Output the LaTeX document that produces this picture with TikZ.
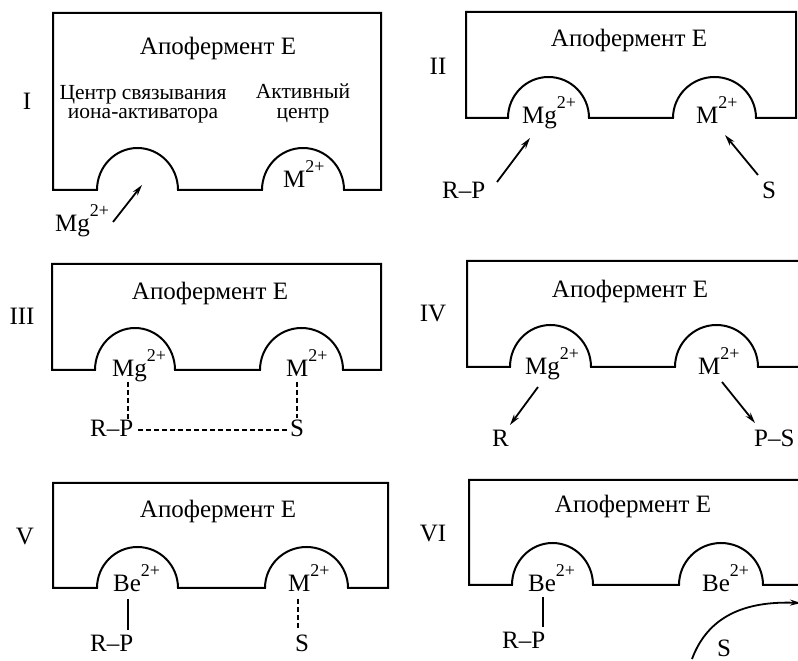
\documentclass[tikz,border=0pt]{standalone}
\usepackage{fontspec}
\setmainfont{Liberation Serif}
\usetikzlibrary{arrows.meta}
\newcommand\sups[1]{\raisebox{15pt}{\fontsize{18}{18}\selectfont #1}}
% L T R B b1L b1R b2L b2R h
\newcommand\enzbox[9]{%
  \draw[boxline] (#1,#4) -- (#1,#2) -- (#3,#2) -- (#3,#4) -- (#8,#4)
    arc[start angle=0,end angle=180,x radius={((#8)-(#7))/2*1pt},y radius={(#9)*1pt}]
    -- (#6,#4)
    arc[start angle=0,end angle=180,x radius={((#6)-(#5))/2*1pt},y radius={(#9)*1pt}]
    -- cycle;}
\tikzset{
  boxline/.style={line width=2pt,line join=miter},
  lab/.style={inner sep=0pt,font=\fontsize{25}{25}\selectfont},
  smalllab/.style={inner sep=0pt,align=center,font=\fontsize{21.5}{19.5}\selectfont},
  arr/.style={line width=1.8pt,-{Stealth[length=11pt,width=6pt]}},
  dashln/.style={line width=1.3pt,dash pattern=on 5pt off 3pt},
  solidln/.style={line width=1.3pt}
}
\begin{document}
\begin{tikzpicture}[x=1pt,y=1pt]
\useasboundingbox (0,0) rectangle (798,661);
% ---------- Panel I ----------
\enzbox{53}{648}{381}{471}{97}{178}{262}{344}{42}
\node[lab,anchor=base] (t1) at (218,606) {Апофермент Е};
\node[lab,anchor=base] (n1) at (27,551) {I};
\node[smalllab,anchor=north] (cb) at (143,576) {Центр связывания\\иона-активатора};
\node[smalllab,anchor=north] (ac) at (303,577) {Активный\\центр};
\node[lab,anchor=base west] (m1) at (283,473) {M\sups{2+}};
\node[lab,anchor=base west] (mg1) at (55,429) {Mg\sups{2+}};
\coordinate (a1s) at (113,439);
\coordinate (a1e) at (142,476);
\draw[arr] (a1s) -- (a1e);
% ---------- Panel II ----------
\enzbox{466}{649}{796}{543}{508}{589}{673}{756}{41}
\node[lab,anchor=base] (t2) at (629,614) {Апофермент Е};
\node[lab,anchor=base] (n2) at (438,586) {II};
\node[lab,anchor=base west] (mg2) at (522,537) {Mg\sups{2+}};
\node[lab,anchor=base west] (m2) at (696,537) {M\sups{2+}};
\node[lab,anchor=base west] (rp2) at (442,462) {R–P};
\node[lab,anchor=base west] (s2) at (762,462) {S};
\coordinate (a2s) at (497,479);
\coordinate (a2e) at (530,523);
\coordinate (b2s) at (758,486);
\coordinate (b2e) at (725,526);
\draw[arr] (a2s) -- (a2e);
\draw[arr] (b2s) -- (b2e);
% ---------- Panel III ----------
\enzbox{52}{397}{381}{291}{95}{175}{260}{343}{42}
\node[lab,anchor=base] (t3) at (210,361) {Апофермент Е};
\node[lab,anchor=base] (n3) at (22,336) {III};
\node[lab,anchor=base west] (mg3) at (112,284) {Mg\sups{2+}};
\node[lab,anchor=base west] (m3) at (286,284) {M\sups{2+}};
\node[lab,anchor=base west] (rp3) at (90,224) {R–P};
\node[lab,anchor=base west] (s3) at (290,224) {S};
\coordinate (d3a) at (128,279);
\coordinate (d3b) at (128,240);
\coordinate (d3c) at (138,231);
\coordinate (d3d) at (289,231);
\coordinate (d3e) at (297,279);
\coordinate (d3f) at (297,243);
\draw[dashln] (d3a) -- (d3b);
\draw[dashln] (d3c) -- (d3d);
\draw[dashln] (d3e) -- (d3f);
% ---------- Panel IV ----------
\enzbox{467}{400}{812}{294}{510}{591}{675}{758}{42}
\node[lab,anchor=base] (t4) at (630,363) {Апофермент Е};
\node[lab,anchor=base] (n4) at (433,339) {IV};
\node[lab,anchor=base west] (mg4) at (525,286) {Mg\sups{2+}};
\node[lab,anchor=base west] (m4) at (698,286) {M\sups{2+}};
\node[lab,anchor=base west] (r4) at (492,214) {R};
\node[lab,anchor=base west] (ps4) at (754,214) {P–S};
\coordinate (a4s) at (538,274);
\coordinate (a4e) at (510,236);
\coordinate (b4s) at (722,279);
\coordinate (b4e) at (755,238);
\draw[arr] (a4s) -- (a4e);
\draw[arr] (b4s) -- (b4e);
% ---------- Panel V ----------
\enzbox{53}{178}{388}{73}{97}{178}{265}{348}{41}
\node[lab,anchor=base] (t5) at (218,143) {Апофермент Е};
\node[lab,anchor=base] (n5) at (25,116) {V};
\node[lab,anchor=base west] (be5) at (113,69) {Be\sups{2+}};
\node[lab,anchor=base west] (m5) at (288,69) {M\sups{2+}};
\node[lab,anchor=base west] (rp5) at (90,9) {R–P};
\node[lab,anchor=base west] (s5) at (295,9) {S};
\coordinate (l5a) at (128,62);
\coordinate (l5b) at (128,31);
\coordinate (l5c) at (298,62);
\coordinate (l5d) at (298,31);
\draw[solidln] (l5a) -- (l5b);
\draw[dashln] (l5c) -- (l5d);
% ---------- Panel VI ----------
\enzbox{469}{181}{812}{76}{512}{593}{679}{763}{42}
\node[lab,anchor=base] (t6) at (633,148) {Апофермент Е};
\node[lab,anchor=base] (n6) at (433,119) {VI};
\node[lab,anchor=base west] (be6a) at (528,69) {Be\sups{2+}};
\node[lab,anchor=base west] (be6b) at (702,69) {Be\sups{2+}};
\node[lab,anchor=base west] (rp6) at (502,12) {R–P};
\node[lab,anchor=base west] (s6) at (717,4) {S};
\coordinate (l6a) at (543,64);
\coordinate (l6b) at (543,34);
\draw[solidln] (l6a) -- (l6b);
\coordinate (c6s) at (692,2);
\coordinate (c6e) at (801,58);
\draw[arr] (c6s) .. controls (708,45) and (745,60) .. (c6e);
\end{tikzpicture}
\end{document}
